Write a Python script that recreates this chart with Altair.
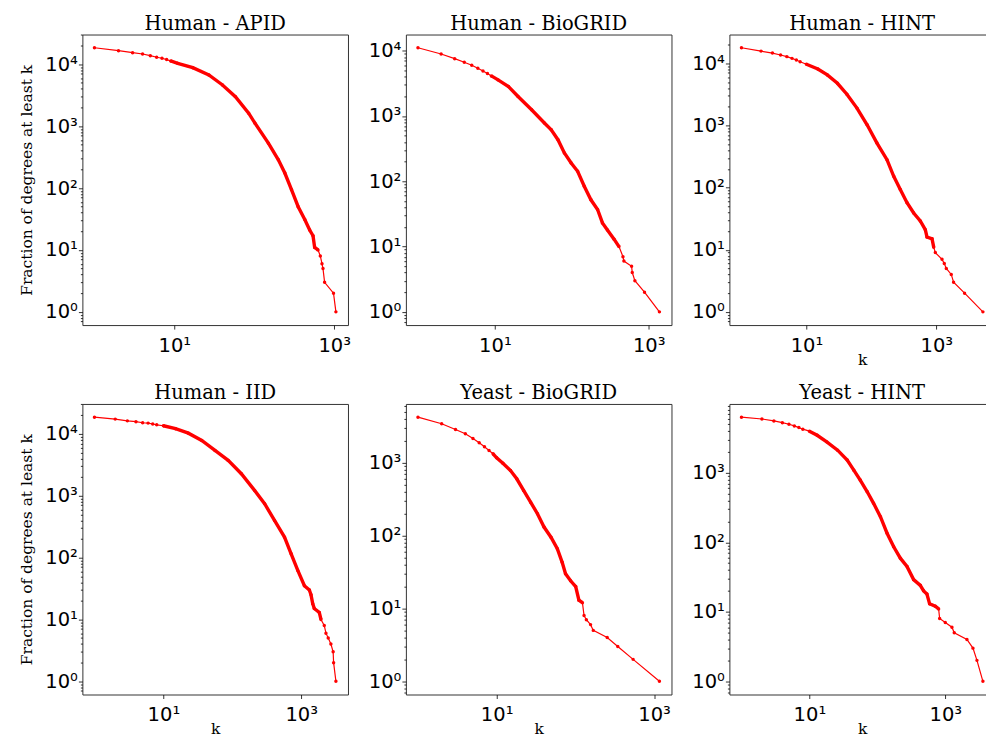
import math
import altair as alt
import pandas as pd

titles = ["Human - APID", "Human - BioGRID", "Human - HINT",
          "Human - IID", "Yeast - BioGRID", "Yeast - HINT"]

apid_k = [1, 2, 3, 4, 5, 6, 7, 8, 9, 11, 17, 27, 40, 58, 85, 102, 150, 200, 241, 292,
          354, 428, 493, 543, 569, 627, 670, 703, 724, 758, 980, 1050]
apid_n = [18500, 16570, 15400, 14660, 13770, 12970, 12500, 11900, 11300, 10380, 8810, 6710,
          4630, 3000, 1620, 1117, 532, 286, 175, 94, 50, 31, 21, 17, 11, 10, 8, 6, 5, 3, 2, 1]

hbio_k = [1, 2, 3, 4, 5, 6, 7, 8, 9, 11, 15, 20, 30, 44, 54, 66, 80, 98, 119, 145, 177,
          216, 250, 290, 354, 410, 462, 475, 598, 610, 660, 880, 1375]
hbio_n = [11100, 8900, 7550, 6640, 5980, 5380, 4900, 4460, 4110, 3570, 2820, 1990, 1245,
          780, 616, 433, 271, 191, 142, 84, 52, 37, 23, 18, 13, 10, 7, 6, 5, 4, 3, 2, 1]

hhint_k = [1, 2, 3, 4, 5, 6, 7, 8, 10, 15, 21, 30, 42, 60, 86, 122, 174, 221, 279, 354,
           448, 567, 677, 719, 859, 912, 966, 1224, 1327, 1425, 1700, 1845, 2725, 5220]
hhint_n = [17800, 15700, 14600, 13600, 12800, 12000, 11300, 10600, 9640, 8100, 6500, 4770,
           3180, 1900, 1025, 520, 281, 152, 93, 57, 39, 29, 21, 16, 15, 11, 9, 7, 6, 5, 4,
           3, 2, 1]

iid_k = [1, 2, 3, 4, 5, 6, 7, 8, 10, 15, 23, 36, 56, 87, 135, 210, 294, 409, 571, 713,
         890, 1110, 1310, 1385, 1465, 1545, 1825, 1930, 2155, 2280, 2460, 2690, 2900, 2945,
         3180]
iid_n = [18600, 17300, 16200, 15700, 15100, 14900, 14400, 14000, 13500, 12100, 10250, 7820,
         5390, 3720, 2265, 1220, 742, 399, 214, 115, 62, 35, 30, 25, 18, 15, 13, 10, 8, 6,
         5, 4, 3, 2, 1]

ybio_k = [1, 2, 3, 4, 5, 6, 7, 8, 9, 10, 12, 15, 18, 22, 27, 33, 40, 49, 59, 68, 75, 87,
          101, 111, 123, 129, 138, 156, 169, 254, 346, 542, 1170]
ybio_n = [4230, 3430, 2860, 2500, 2150, 1880, 1660, 1475, 1330, 1170, 988, 783, 603, 417,
          288, 200, 131, 95, 66, 43, 30, 24, 20, 13, 12, 8, 7, 6, 5, 4, 3, 2, 1]

yhint_k = [1, 2, 3, 4, 5, 6, 7, 8, 10, 13, 18, 26, 36, 45, 56, 71, 88, 111, 139, 174, 218,
           273, 342, 429, 480, 537, 588, 713, 798, 826, 1000, 1253, 1355, 2083, 2555, 2925,
           3580]
yhint_n = [6300, 5930, 5560, 5250, 4980, 4710, 4460, 4230, 3960, 3460, 2780, 2110, 1520,
           1090, 784, 532, 363, 233, 135, 86, 59, 45, 29, 24, 20, 18, 13, 12, 11, 8, 7, 6,
           5, 4, 3, 2, 1]

series = [(apid_k, apid_n), (hbio_k, hbio_n), (hhint_k, hhint_n),
          (iid_k, iid_n), (ybio_k, ybio_n), (yhint_k, yhint_n)]

W, H = 266, 291
RED = "#ff0000"
LBL = 19.5
SUP = "['\u2070','\u00b9','\u00b2','\u00b3','\u2074','\u2075','\u2076']"
EXP = "round(log(datum.value)/LN10)"
IS_MAJOR = f"abs(log(datum.value)/LN10 - {EXP}) < 0.001"
LABEL = f"{IS_MAJOR} ? '10' + {SUP}[{EXP}] : ''"


def log_domain(vals):
    lo = math.log10(min(vals))
    hi = math.log10(max(vals))
    r = hi - lo
    return [10 ** (lo - 0.05 * r), 10 ** (hi + 0.05 * r)]


def y_ticks(dom):
    out = []
    for d in range(-1, 7):
        for m in range(1, 10):
            v = m * 10 ** d
            if dom[0] <= v <= dom[1]:
                out.append(v)
    return out


def panel(i):
    ks, ns = series[i]
    df = pd.DataFrame({"k": ks, "n": ns})
    xdom = log_domain(ks)
    ydom = log_domain(ns)
    show_y_title = i in (0, 3)
    show_x_title = i in (2, 3, 4, 5)
    x_axis = alt.Axis(
        values=[v for v in [0.1, 10, 1000, 100000] if xdom[0] <= v <= xdom[1]],
        labelExpr=LABEL, labelOverlap=False, labelFlush=False,
        title="k" if show_x_title else None,
        domain=False, grid=False, tickSize=4, tickColor="black", tickWidth=0.8,
        labelFont="DejaVu Sans", labelFontSize=LBL, labelColor="black", labelPadding=7,
        titleFont="DejaVu Serif", titleFontSize=15.5, titleFontWeight="normal",
        titleColor="black", titlePadding=-2,
    )
    y_axis = alt.Axis(
        values=y_ticks(ydom),
        labelExpr=LABEL, labelOverlap=False, labelFlush=False,
        labelFontSize={"condition": {"test": IS_MAJOR, "value": LBL}, "value": 0},
        title="Fraction of degrees at least k" if show_y_title else None,
        domain=False, grid=False,
        tickSize={"condition": {"test": IS_MAJOR, "value": 4}, "value": 2},
        tickColor="black", tickWidth=0.8,
        labelFont="DejaVu Sans", labelColor="black", labelPadding=1,
        titleFont="DejaVu Serif", titleFontSize=15.5, titleFontWeight="normal",
        titleColor="black", titlePadding=10,
    )
    base = alt.Chart(df).encode(
        x=alt.X("k:Q", scale=alt.Scale(type="log", domain=xdom, nice=False), axis=x_axis),
        y=alt.Y("n:Q", scale=alt.Scale(type="log", domain=ydom, nice=False), axis=y_axis),
    )
    line = base.mark_line(color=RED, strokeWidth=1.2)
    band = base.transform_filter("datum.k >= 9 && datum.n >= 10").mark_line(
        color=RED, strokeWidth=3.4)
    pts = base.mark_circle(color=RED, size=12, opacity=1)
    return alt.layer(line, band, pts).properties(
        width=W, height=H,
        title=alt.TitleParams(titles[i], font="DejaVu Serif", fontSize=19.5,
                              fontWeight="normal", color="black", offset=0),
    )


chart = alt.concat(*[panel(i) for i in range(6)], columns=3,
                   spacing={"row": 79, "column": 58}, bounds="flush").properties(
    padding={"left": 10.5, "top": 4, "right": -10, "bottom": 0}
).configure_view(stroke="#333333", strokeWidth=1)

chart.save("out.html", embed_options={"renderer": "svg", "actions": False})
